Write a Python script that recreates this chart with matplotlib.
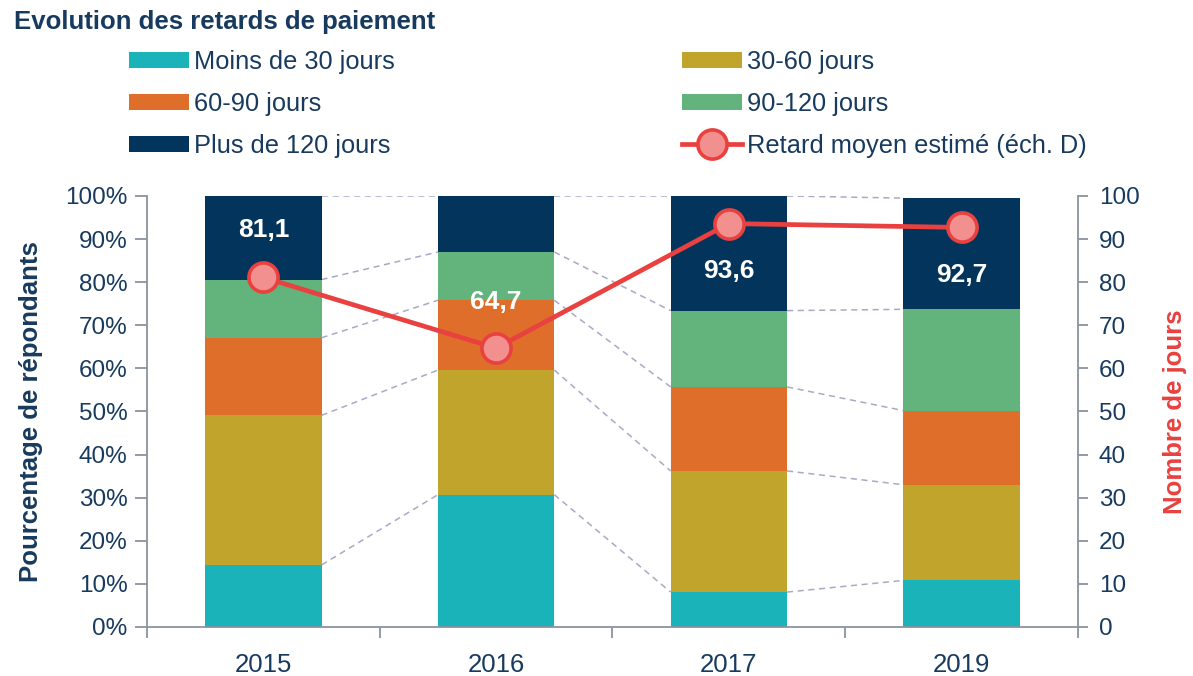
import matplotlib
matplotlib.use("Agg")
import matplotlib.pyplot as plt

# ---------------- data ----------------
years = ["2015", "2016", "2017", "2019"]
moins_30 = [14.4, 30.7, 8.1, 10.8]
j30_60 = [34.7, 28.9, 28.1, 22.2]
j60_90 = [18.0, 16.2, 19.5, 17.2]
j90_120 = [13.5, 11.2, 17.7, 23.5]
plus_120 = [19.4, 13.0, 26.6, 25.8]
retard_moyen = [81.1, 64.7, 93.6, 92.7]
retard_labels = ["81,1", "64,7", "93,6", "92,7"]

series_names = ["Moins de 30 jours", "30-60 jours", "60-90 jours", "90-120 jours", "Plus de 120 jours"]
line_name = "Retard moyen estimé (éch. D)"
title = "Evolution des retards de paiement"
ylabel_left = "Pourcentage de répondants"
ylabel_right = "Nombre de jours"
left_ticks = [0, 10, 20, 30, 40, 50, 60, 70, 80, 90, 100]
left_ticklabels = [f"{v}%" for v in left_ticks]
right_ticks = left_ticks

colors = ["#19b3b9", "#c0a42c", "#e06e2b", "#62b47c", "#03345b"]
navy = "#173a5e"
red = "#e8413f"
grey = "#8a93a0"
dash_col = "#a9a9c6"

plt.rcParams["font.family"] = ["Liberation Sans", "DejaVu Sans"]

fig = plt.figure(figsize=(11.93, 6.76), dpi=100)
ax = fig.add_axes([0.1232, 0.0725, 0.7804, 0.6376])
ax.set_xlim(-0.5, 3.5)
ax.set_ylim(0, 100)

x = list(range(len(years)))
width = 0.5
stack = [moins_30, j30_60, j60_90, j90_120, plus_120]
bottoms = [0.0] * len(years)
levels = []
bars = []
for vals, c, name in zip(stack, colors, series_names):
    b = ax.bar(x, vals, width, bottom=bottoms, color=c, label=name, zorder=2, linewidth=0)
    bars.append(b)
    bottoms = [bo + v for bo, v in zip(bottoms, vals)]
    levels.append(list(bottoms))

# series connector lines
for lev in levels:
    for i in range(len(years) - 1):
        ax.plot([x[i] + width / 2, x[i + 1] - width / 2], [lev[i], lev[i + 1]],
                color=dash_col, lw=1.1, ls=(0, (4, 3)), zorder=1)

tick_fs = 17.5
# axes styling
for s in ["top", "right"]:
    ax.spines[s].set_visible(False)
for s in ["left", "bottom"]:
    ax.spines[s].set_color(grey)
    ax.spines[s].set_linewidth(1.3)
ax.set_yticks(left_ticks)
ax.set_yticklabels(left_ticklabels)
ax.tick_params(axis="y", direction="out", length=9, width=1.3, color=grey,
               labelsize=tick_fs, labelcolor=navy, pad=5)
ax.set_xticks(x)
ax.set_xticklabels(years)
ax.set_xticks([-0.5, 0.5, 1.5, 2.5, 3.5], minor=True)
ax.tick_params(axis="x", which="major", length=0, labelsize=tick_fs + 1, labelcolor=navy, pad=19)
ax.tick_params(axis="x", which="minor", direction="out", length=8, width=1.3, color=grey)
ax.set_ylabel(ylabel_left, fontsize=18.5, fontweight="bold", color=navy, labelpad=16)

ax2 = ax.twinx()
ax2.set_ylim(0, 100)
for s in ["top", "left", "bottom"]:
    ax2.spines[s].set_visible(False)
ax2.spines["right"].set_color(grey)
ax2.spines["right"].set_linewidth(1.3)
ax2.set_yticks(right_ticks)
ax2.tick_params(axis="y", direction="out", length=7, width=1.3, color=grey,
                labelsize=tick_fs, labelcolor=navy, pad=8)
ax2.set_ylabel(ylabel_right, fontsize=18.5, fontweight="bold", color=red, labelpad=17)

ln, = ax2.plot(x, retard_moyen, color=red, lw=3.4, marker="o", markersize=21,
               markerfacecolor="#f29090", markeredgecolor=red, markeredgewidth=2.6,
               zorder=5, label=line_name)
offsets = [34, 33, -34, -34]
for xi, v, lab, off in zip(x, retard_moyen, retard_labels, offsets):
    ax2.annotate(lab, (xi, v), xytext=(0, off), textcoords="offset points",
                 ha="center", va="center", color="white", fontweight="bold",
                 fontsize=19, zorder=6)

fig.text(14 / 1193, 1 - 22 / 676, title, fontsize=18.5, fontweight="bold",
         color=navy, ha="left", va="center")

handles = [bars[0], bars[2], bars[4], bars[1], bars[3], ln]
labels = [series_names[0], series_names[2], series_names[4], series_names[1], series_names[3], line_name]
leg = fig.legend(handles, labels, loc="upper left", bbox_to_anchor=(129 / 1193, 1 - 50 / 676),
                 ncol=2, frameon=False, fontsize=18.3, handlelength=2.35, handleheight=0.6,
                 handletextpad=0.2, columnspacing=11.3, labelspacing=0.7, borderpad=0,
                 borderaxespad=0)
for t in leg.get_texts():
    t.set_color(navy)

fig.savefig("out.png", dpi=100)
